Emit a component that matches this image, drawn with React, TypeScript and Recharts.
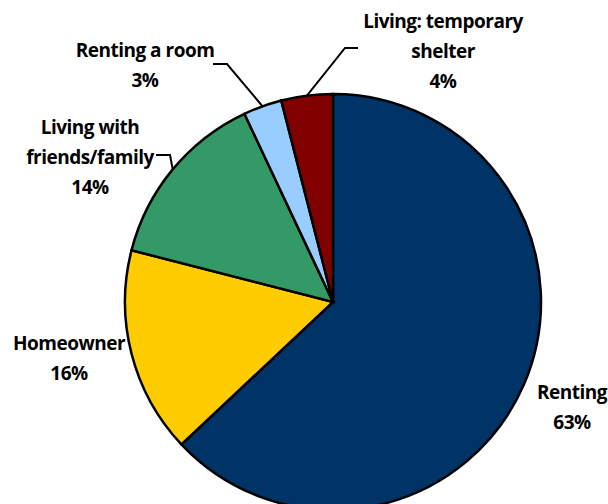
import { PieChart, Pie, Cell } from "recharts";

const categories = [
  "Renting",
  "Homeowner",
  "Living with friends/family",
  "Renting a room",
  "Living: temporary shelter",
];
const shares = [63, 16, 14, 3, 4];
const colors = ["#003366", "#FFCC00", "#339966", "#99CCFF", "#800000"];

// text lines shown next to each slice
const labelLines = [
  ["Renting", "63%"],
  ["Homeowner", "16%"],
  ["Living with", "friends/family", "14%"],
  ["Renting a room", "3%"],
  ["Living: temporary", "shelter", "4%"],
];

// where each label sits, and the leader elbow (if any)
const labelPlaces = [
  { x: 572, y: 392, leader: null },
  { x: 69, y: 343, leader: null },
  { x: 90, y: 127, leader: { ex: 170, ey: 155, hx: 156 } },
  { x: 145, y: 50, leader: { ex: 227, ey: 64, hx: 213 } },
  { x: 443, y: 21, leader: { ex: 345, ey: 48, hx: 358 } },
];

const data = categories.map((name, i) => ({ name, value: shares[i] }));

const RADIAN = Math.PI / 180;

function SliceLabel(props: any) {
  const { cx, cy, midAngle, outerRadius, index } = props;
  const place = labelPlaces[index];
  const lines = labelLines[index];
  const px = cx + outerRadius * Math.cos(-midAngle * RADIAN);
  const py = cy + outerRadius * Math.sin(-midAngle * RADIAN);
  return (
    <g>
      {place.leader && (
        <polyline
          points={`${px},${py} ${place.leader.ex},${place.leader.ey} ${place.leader.hx},${place.leader.ey}`}
          fill="none"
          stroke="#000"
          strokeWidth={2}
        />
      )}
      {lines.map((t, k) => (
        <text
          key={k}
          x={place.x}
          y={place.y + k * 30}
          textAnchor="middle"
          dominantBaseline="central"
          fontFamily="'Open Sans', sans-serif"
          fontWeight={700}
          fontSize={19}
          letterSpacing={-0.5}
          fill="#000"
        >
          {t}
        </text>
      ))}
    </g>
  );
}

export default function App() {
  return (
    <div style={{ position: "absolute", left: 0, top: 0, width: 608, height: 504, background: "#fff", overflow: "hidden" }}>
      <PieChart width={608} height={504} margin={{ top: 0, right: 0, bottom: 0, left: 0 }}>
        <Pie
          data={data}
          dataKey="value"
          nameKey="name"
          cx={333}
          cy={302}
          outerRadius={208}
          startAngle={90}
          endAngle={-270}
          stroke="#000"
          strokeWidth={2.5}
          label={SliceLabel}
          labelLine={false}
          isAnimationActive={false}
        >
          {data.map((d, i) => (
            <Cell key={d.name} fill={colors[i]} />
          ))}
        </Pie>
      </PieChart>
    </div>
  );
}
